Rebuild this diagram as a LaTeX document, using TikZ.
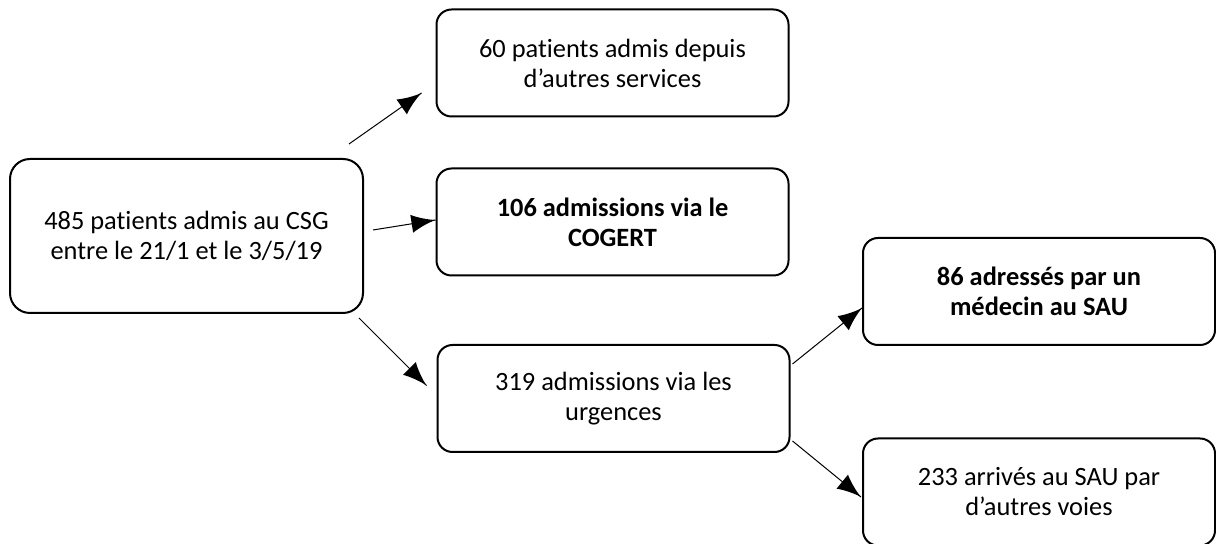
\documentclass[tikz,border=0pt]{standalone}
\usepackage{fontspec}
\setmainfont{Carlito}[Ligatures=NoCommon]
\usetikzlibrary{arrows}
\usetikzlibrary{decorations.markings}
\tikzset{flow/.style = {line width=0.5pt,
                        decoration={markings,
                                    mark=at position 1 with {\arrow[scale=2.8]{latex}}},
                        postaction={decorate}}}
\tikzset{box/.style = {draw, line width=1pt, rounded corners=7.5pt, align=center,
                       inner sep=0, minimum width=176pt, minimum height=53.5pt,
                       font=\fontsize{13.2}{15}\selectfont}}

\begin{document}
\begin{tikzpicture}[x=0.5pt, y=-0.5pt]
    \useasboundingbox (0, 0) rectangle (1216, 544);

    \node [box, minimum width=176.5pt, minimum height=77pt, rounded corners=10pt] (csg) at (186.5, 236)
          {485 patients admis au CSG\\entre le 21/1 et le 3/5/19};
    \node [box] (services) at (612.5, 63) {60 patients admis depuis\\d’autres services};
    \node [box, font=\fontsize{13.2}{15}\selectfont\bfseries] (cogert) at (612.5, 222) {106 admissions via le\\COGERT};
    \node [box] (urgences) at (613.5, 398.5) {319 admissions via les\\urgences};
    \node [box, font=\fontsize{13.2}{15}\selectfont\bfseries] (medecin) at (1039, 291.5) {86 adressés par un\\médecin au SAU};
    \node [box] (voies) at (1039, 492) {233 arrivés au SAU par\\d’autres voies};

    \draw [flow] ([shift={(-15, -14)}]csg.north east) -- ([shift={(-14, 30)}]services.west);
    \draw [flow] ([shift={(9, -6)}]csg.east) -- ([shift={(0, -2)}]cogert.west);
    \draw [flow] ([shift={(-5, 4)}]csg.south east) -- ([shift={(-10, -13)}]urgences.west);
    \draw [flow] ([shift={(2, 20)}]urgences.north east) -- ([shift={(0, 16.5)}]medecin.west);
    \draw [flow] ([shift={(2, -12)}]urgences.south east) -- ([shift={(-1, 5)}]voies.west);
\end{tikzpicture}
\end{document}
